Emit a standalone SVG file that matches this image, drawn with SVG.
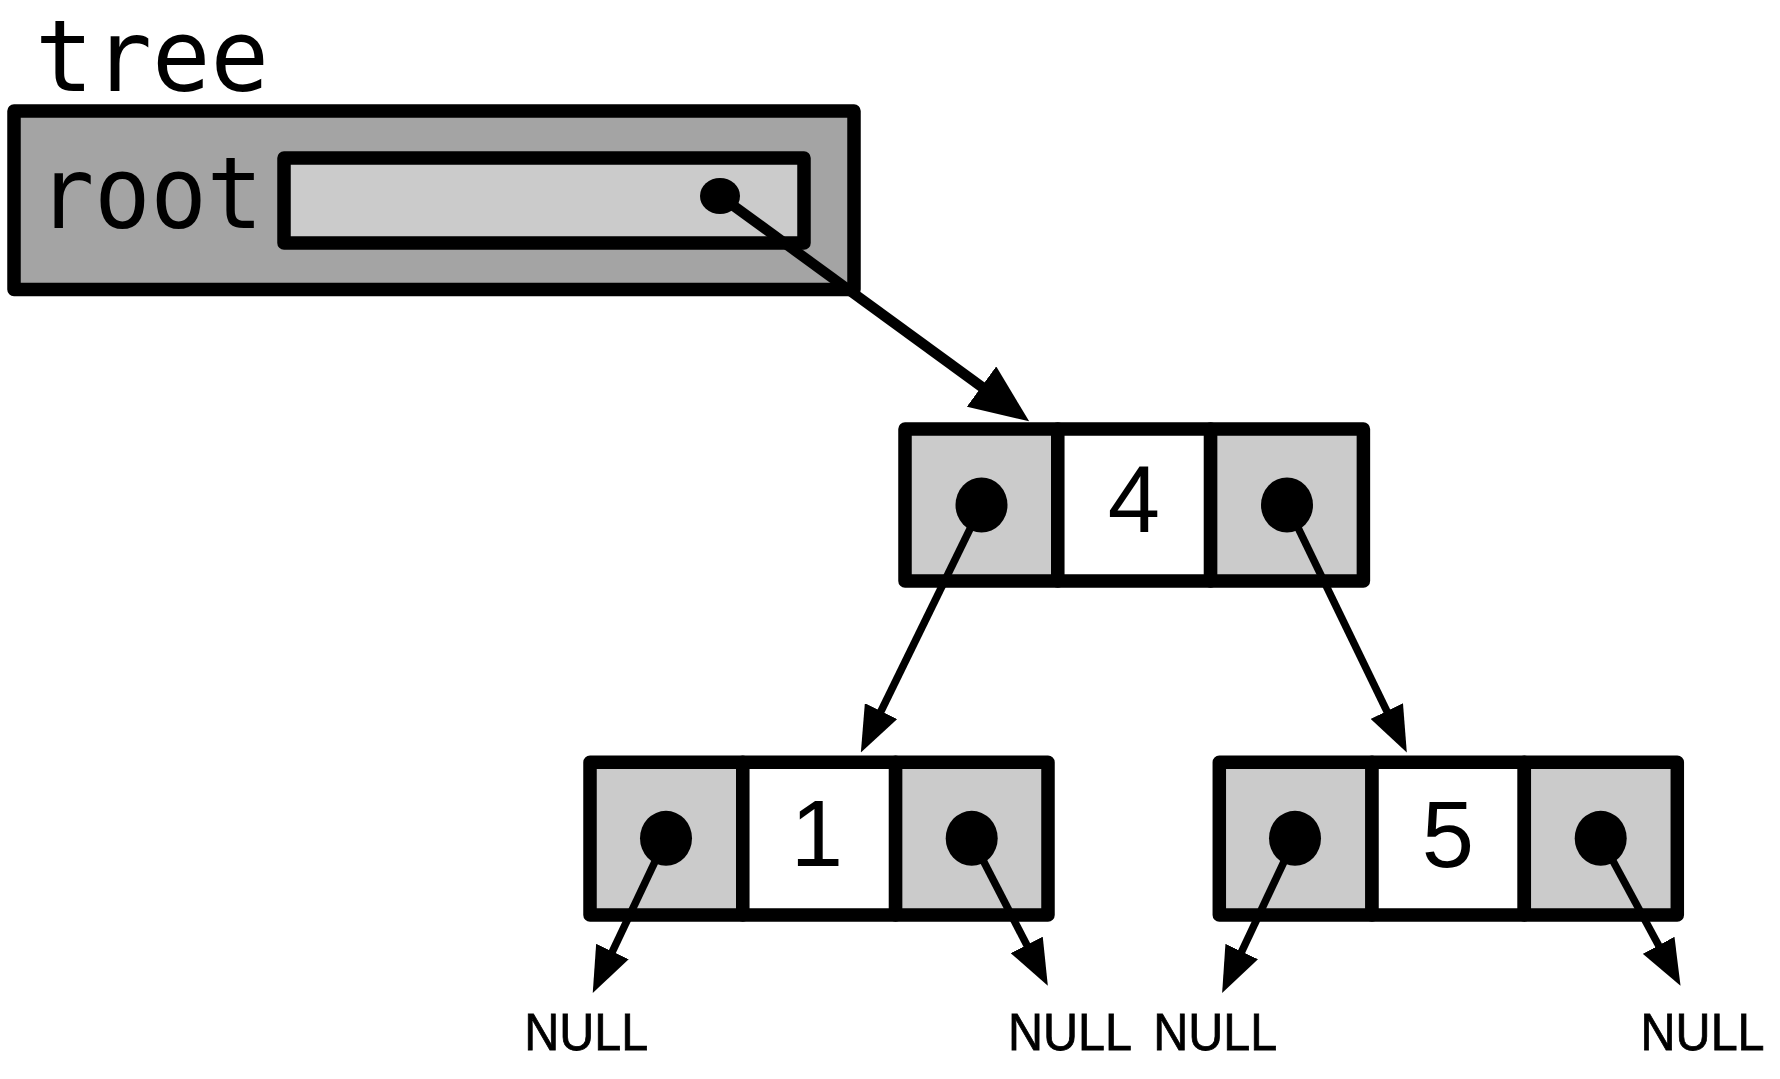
<svg xmlns="http://www.w3.org/2000/svg" width="1780" height="1079" viewBox="0 0 1780 1079">
  <style>
    .frame { stroke: #000; stroke-width: 13.5; stroke-linejoin: round; }
    .outer { fill: #a4a4a4; }
    .ptr { fill: #cbcbcb; }
    .val { fill: #ffffff; }
    .dot { fill: #000; }
    .mono { font-family: "DejaVu Sans Mono", monospace; font-size: 100px; fill: #000; }
    .num { font-family: "Liberation Sans", Arial, sans-serif; font-size: 94px; fill: #000; text-anchor: middle; }
    .null { font-family: "Liberation Sans", Arial, sans-serif; font-size: 52px; fill: #000; stroke: #000; stroke-width: 0.8; }
    .link { fill: none; stroke: #000; stroke-width: 7.5; }
    .link-big { fill: none; stroke: #000; stroke-width: 10.5; }
  </style>
  <defs>
    <marker id="ah" markerUnits="userSpaceOnUse" orient="auto" viewBox="0 -18 46 36" markerWidth="46" markerHeight="36" refX="1" refY="0">
      <path d="M0,-18 L46,0 L0,18 Z" fill="#000"/>
    </marker>
    <marker id="ah-big" markerUnits="userSpaceOnUse" orient="auto" viewBox="0 -25 59 50" markerWidth="59" markerHeight="50" refX="1" refY="0">
      <path d="M0,-25 L59,0 L0,25 Z" fill="#000"/>
    </marker>
  </defs>

  <g id="tree">
    <text class="mono" x="35" y="90.7" textLength="234" lengthAdjust="spacingAndGlyphs">tree</text>
    <rect class="frame outer" x="14" y="111" width="840" height="178.5"/>
    <text class="mono" x="38" y="228.3" textLength="225" lengthAdjust="spacingAndGlyphs">root</text>
    <rect class="frame ptr" x="284" y="158" width="520" height="85"/>
    <ellipse class="dot" cx="720" cy="196" rx="20" ry="18"/>
  </g>

  <g id="node4" transform="translate(905,429)">
    <rect class="frame ptr" x="0" y="0" width="152.8" height="152"/>
    <rect class="frame val" x="152.8" y="0" width="152.8" height="152"/>
    <rect class="frame ptr" x="305.6" y="0" width="152.8" height="152"/>
    <ellipse class="dot" cx="76.5" cy="76" rx="26" ry="27.5"/>
    <ellipse class="dot" cx="382" cy="76" rx="26" ry="27.5"/>
    <text class="num" x="229" y="102.7">4</text>
  </g>

  <g id="node1" transform="translate(590,762.3)">
    <rect class="frame ptr" x="0" y="0" width="152.8" height="152.7"/>
    <rect class="frame val" x="152.8" y="0" width="152.8" height="152.7"/>
    <rect class="frame ptr" x="305.6" y="0" width="152.4" height="152.7"/>
    <ellipse class="dot" cx="76" cy="76" rx="26" ry="27.5"/>
    <ellipse class="dot" cx="381.7" cy="76" rx="26" ry="27.5"/>
    <text class="num" x="227" y="103.4">1</text>
  </g>

  <g id="node5" transform="translate(1219.3,762.3)">
    <rect class="frame ptr" x="0" y="0" width="152.7" height="152.7"/>
    <rect class="frame val" x="152.7" y="0" width="152.3" height="152.7"/>
    <rect class="frame ptr" x="305" y="0" width="153" height="152.7"/>
    <ellipse class="dot" cx="75.7" cy="76" rx="26" ry="27.5"/>
    <ellipse class="dot" cx="381.4" cy="76" rx="26" ry="27.5"/>
    <text class="num" x="228.7" y="104.4">5</text>
  </g>

  <g id="null-labels">
    <text class="null" x="524.3" y="1050" textLength="124" lengthAdjust="spacingAndGlyphs">NULL</text>
    <text class="null" x="1008" y="1050" textLength="124" lengthAdjust="spacingAndGlyphs">NULL</text>
    <text class="null" x="1153.3" y="1050" textLength="124" lengthAdjust="spacingAndGlyphs">NULL</text>
    <text class="null" x="1640.6" y="1050" textLength="124" lengthAdjust="spacingAndGlyphs">NULL</text>
  </g>

  <g id="connectors">
    <path class="link-big" d="M720,196 L982.3,387.2" marker-end="url(#ah-big)"/>
    <path class="link" d="M981.7,505 L880.6,712" marker-end="url(#ah)"/>
    <path class="link" d="M1287,505 L1387.2,711.9" marker-end="url(#ah)"/>
    <path class="link" d="M666,838.3 L612,952.4" marker-end="url(#ah)"/>
    <path class="link" d="M971.7,838.3 L1027.2,945.8" marker-end="url(#ah)"/>
    <path class="link" d="M1295,838.3 L1241.3,952.4" marker-end="url(#ah)"/>
    <path class="link" d="M1600.7,838.3 L1659.1,946.2" marker-end="url(#ah)"/>
  </g>
</svg>
